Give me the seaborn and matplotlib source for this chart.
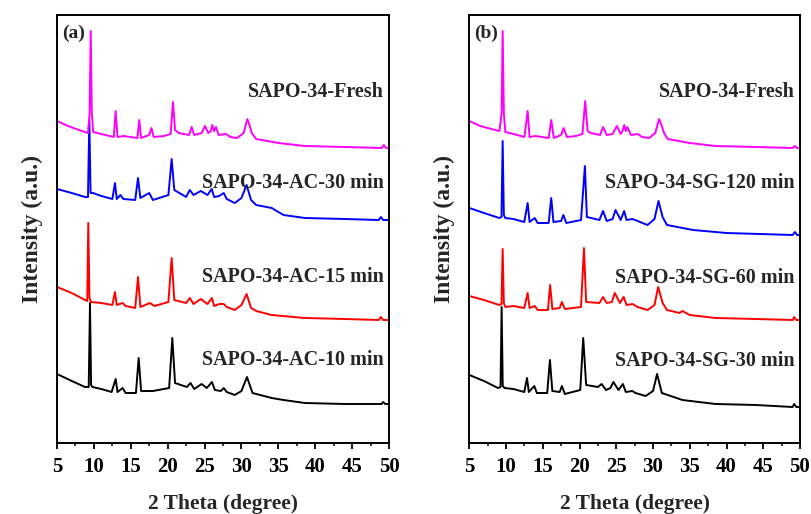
import numpy as np
import pandas as pd
import matplotlib
matplotlib.use("Agg")
import matplotlib.pyplot as plt
import seaborn as sns
from matplotlib.ticker import MultipleLocator

# ---------------- data (2 Theta, intensity a.u. with vertical offsets) ----------------
fresh_a_x = [5.0, 6.5, 8.0, 9.2, 9.42, 9.57, 9.72, 9.9, 11.0, 12.7, 12.95, 13.2, 14.0, 15.9, 16.15, 16.4,
             17.5, 17.8, 18.1, 19.5, 20.4, 20.72, 21.0, 21.5, 22.9, 23.25, 23.6, 24.6, 25.06, 25.5, 25.85,
             26.05, 26.3, 26.55, 26.9, 27.9, 28.5, 29.4, 30.3, 30.8, 31.1, 31.4, 32.0, 35.0, 38.6, 44.0,
             49.0, 49.3, 49.6, 50.0]
fresh_a_y = [322, 317, 313, 310, 330, 412, 330, 311, 309, 306, 332, 306, 307, 305, 323, 305,
             308, 315, 306, 307, 309, 341, 313, 310, 308, 316, 308, 310, 317, 310, 312,
             318, 312, 316, 308, 309, 306, 305, 310, 324, 318, 310, 304, 300, 297, 296,
             295, 298, 295, 295]

ac30_x = [5.0, 7.0, 8.8, 9.2, 9.38, 9.55, 9.9, 11.0, 12.5, 12.86, 13.1, 13.6, 14.0, 15.6, 15.98, 16.3,
          17.5, 18.0, 20.1, 20.54, 20.9, 22.5, 23.0, 23.5, 24.5, 25.4, 25.97, 26.3, 27.0, 27.6, 28.0,
          29.1, 30.0, 30.7, 31.3, 32.0, 34.1, 35.7, 38.6, 44.0, 48.6, 48.9, 49.2, 50.0]
ac30_y = [254, 250, 246, 246, 323, 250, 250, 247, 244, 260, 244, 248, 244, 243, 265, 245,
          250, 243, 248, 284, 253, 246, 253, 248, 252, 248, 254, 246, 247, 250, 244,
          240, 245, 258, 243, 238, 235, 228, 225, 224, 223, 226, 223, 223]

ac15_x = [5.0, 7.0, 8.8, 9.1, 9.24, 9.4, 9.6, 11.0, 12.5, 12.86, 13.1, 13.9, 14.3, 15.6, 15.98, 16.3,
          17.6, 18.2, 20.1, 20.54, 20.9, 22.5, 23.0, 23.5, 24.5, 25.4, 26.0, 26.3, 27.0, 27.6, 28.0,
          29.1, 30.0, 30.7, 31.3, 32.0, 34.1, 38.6, 44.0, 48.6, 48.9, 49.2, 50.0]
ac15_y = [156, 150, 143, 142, 220, 145, 141, 140, 138, 151, 138, 140, 137, 135, 166, 136,
          140, 137, 141, 185, 143, 140, 145, 139, 144, 139, 145, 137, 139, 139, 136,
          133, 138, 149, 135, 132, 128, 125, 124, 123, 126, 123, 123]

ac10_x = [5.0, 7.0, 8.8, 9.3, 9.47, 9.62, 9.8, 11.0, 12.4, 12.95, 13.2, 13.9, 14.3, 15.7, 16.07, 16.4,
          18.0, 20.2, 20.63, 21.0, 22.6, 23.1, 23.6, 24.6, 25.3, 26.0, 26.4, 27.2, 27.6, 28.0,
          29.1, 30.0, 30.75, 31.5, 34.1, 35.7, 38.6, 44.0, 49.0, 49.2, 49.5, 50.0]
ac10_y = [69, 62, 56, 56, 140, 58, 56, 54, 51, 64, 51, 55, 50, 50, 85, 52,
          52, 55, 105, 60, 56, 60, 54, 59, 55, 61, 53, 52, 55, 51,
          48, 52, 66, 50, 45, 43, 40, 39, 39, 41, 39, 39]

fresh_b_x = [5.0, 6.5, 8.0, 9.1, 9.4, 9.54, 9.7, 9.9, 11.0, 12.5, 12.94, 13.2, 14.0, 15.8, 16.15, 16.5,
             17.5, 17.83, 18.3, 19.5, 20.4, 20.77, 21.1, 21.5, 22.8, 23.2, 23.7, 24.5, 25.08, 25.6, 25.85,
             26.07, 26.3, 26.5, 27.0, 27.9, 28.5, 29.47, 30.3, 30.83, 31.2, 31.5, 32.0, 35.0, 38.5, 44.0,
             49.0, 49.3, 49.6, 50.0]
fresh_b_y = [322, 317, 314, 312, 330, 412, 330, 311, 309, 306, 332, 306, 307, 305, 323, 305,
             308, 315, 306, 307, 309, 342, 312, 310, 308, 316, 308, 309, 317, 309, 312,
             318, 312, 316, 308, 309, 306, 305, 310, 324, 317, 310, 304, 300, 297, 296,
             295, 297, 295, 295]

sg120_x = [5.0, 7.0, 9.08, 9.38, 9.54, 9.7, 9.9, 11.0, 12.48, 12.94, 13.2, 13.9, 14.3, 15.8, 16.15, 16.45,
           17.5, 17.8, 18.2, 20.2, 20.73, 21.0, 22.7, 23.2, 23.7, 24.5, 24.9, 25.6, 26.07, 26.4, 27.2,
           27.9, 29.25, 30.2, 30.75, 31.3, 31.9, 35.45, 40.0, 49.0, 49.3, 49.6, 50.0]
sg120_y = [235, 230, 225, 226, 302, 228, 225, 224, 221, 240, 221, 225, 220, 220, 245, 221,
           222, 228, 220, 223, 277, 226, 223, 232, 222, 224, 233, 223, 232, 223, 224,
           222, 218, 224, 242, 226, 218, 213, 210, 208, 211, 208, 208]

sg60_x = [5.0, 7.0, 9.08, 9.38, 9.54, 9.7, 9.9, 11.0, 12.48, 12.94, 13.2, 13.9, 14.3, 15.7, 16.0, 16.3,
          17.3, 17.6, 18.0, 20.2, 20.6, 20.9, 22.7, 23.2, 23.7, 24.4, 24.8, 25.5, 26.0, 26.4, 27.2,
          27.9, 29.25, 30.2, 30.7, 31.3, 31.9, 33.6, 34.0, 35.0, 38.5, 44.0, 49.0, 49.2, 49.5, 50.0]
sg60_y = [147, 143, 138, 139, 194, 140, 136, 137, 135, 150, 135, 137, 133, 133, 158, 134,
          135, 141, 134, 136, 195, 141, 140, 146, 140, 141, 150, 140, 146, 138, 139,
          136, 133, 138, 156, 140, 133, 130, 132, 128, 125, 124, 123, 126, 123, 123]

sg30_x = [5.0, 7.0, 8.9, 9.25, 9.4, 9.55, 9.8, 11.0, 12.48, 12.85, 13.1, 13.84, 14.2, 15.6, 15.97, 16.3,
          17.3, 17.6, 18.0, 20.1, 20.5, 20.9, 22.5, 23.0, 23.6, 24.2, 24.6, 25.3, 25.9, 26.3, 27.2,
          27.6, 29.0, 30.0, 30.55, 31.2, 34.0, 38.5, 44.0, 49.0, 49.2, 49.5, 50.0]
sg30_y = [68, 62, 55, 56, 136, 57, 55, 54, 51, 65, 51, 57, 50, 50, 83, 52,
          51, 57, 49, 53, 105, 58, 56, 59, 53, 55, 61, 53, 59, 51, 52,
          50, 47, 52, 69, 50, 43, 39, 38, 36, 39, 36, 36]

labels_a = ["SAPO-34-AC-10 min", "SAPO-34-AC-15 min", "SAPO-34-AC-30 min", "SAPO-34-Fresh"]
labels_b = ["SAPO-34-SG-30 min", "SAPO-34-SG-60 min", "SAPO-34-SG-120 min", "SAPO-34-Fresh"]
colors = ["#000000", "#FF0000", "#0000FF", "#FF00FF"]
label_y_a = [83, 166, 260, 351]
label_y_b = [82, 165, 260, 351]
x_ticks = [5, 10, 15, 20, 25, 30, 35, 40, 45, 50]

series_a = [(ac10_x, ac10_y), (ac15_x, ac15_y), (ac30_x, ac30_y), (fresh_a_x, fresh_a_y)]
series_b = [(sg30_x, sg30_y), (sg60_x, sg60_y), (sg120_x, sg120_y), (fresh_b_x, fresh_b_y)]


def long_frame(series, labels):
    rows = []
    for (xs, ys), lab in zip(series, labels):
        rows.append(pd.DataFrame({"theta": xs, "inten": ys, "sample": lab}))
    return pd.concat(rows, ignore_index=True)


sns.set_theme(style="ticks")
plt.rcParams["font.family"] = ["Liberation Serif", "DejaVu Serif"]
plt.rcParams["font.weight"] = "bold"

fig = plt.figure(figsize=(8.11, 5.14), dpi=100)
ax_a = fig.add_axes([57 / 811, 1 - 443 / 514, 332 / 811, 428 / 514])
ax_b = fig.add_axes([469.3 / 811, 1 - 443 / 514, 330.7 / 811, 428 / 514])

for ax, series, labels, label_y, tag in [
    (ax_a, series_a, labels_a, label_y_a, "(a)"),
    (ax_b, series_b, labels_b, label_y_b, "(b)"),
]:
    df = long_frame(series, labels)
    sns.lineplot(data=df, x="theta", y="inten", hue="sample", hue_order=labels,
                 palette=dict(zip(labels, colors)), estimator=None, sort=False,
                 linewidth=1.4, ax=ax, legend=False)
    ax.set_xlim(5, 50)
    ax.set_ylim(0, 428)
    ax.xaxis.set_major_locator(MultipleLocator(5))
    ax.xaxis.set_minor_locator(MultipleLocator(2.5))
    ax.set_xticks(x_ticks)
    ax.set_xticklabels([str(t) for t in x_ticks])
    ax.set_yticks([])
    ax.tick_params(axis="x", which="major", direction="out", length=4, width=1.3,
                   labelsize=15, pad=6, colors="black")
    ax.tick_params(axis="x", which="minor", direction="out", length=2.5, width=1.3)
    for lab in ax.get_xticklabels():
        lab.set_fontweight("bold")
    for sp in ax.spines.values():
        sp.set_visible(True)
        sp.set_linewidth(1.4)
        sp.set_color("black")
    ax.set_xlabel("2 Theta (degree)", fontsize=15.5, fontweight="bold", labelpad=12)
    ax.set_ylabel("Intensity (a.u.)", fontsize=17, fontweight="bold", labelpad=10)
    for lab, ly in zip(labels, label_y):
        ax.text(49.3, ly, lab, ha="right", va="center", fontsize=14.5, fontweight="bold")
    ax.text(0.015, 0.956, tag, transform=ax.transAxes, ha="left", va="center",
            fontsize=14, fontweight="bold")

fig.savefig("out.png", dpi=100)
